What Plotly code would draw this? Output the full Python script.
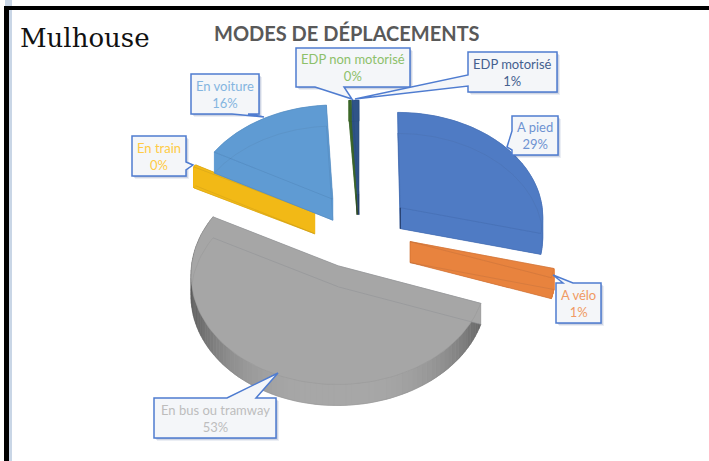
import numpy as np
import plotly.graph_objects as go

categories = ["A pied", "A vélo", "En bus ou tramway", "En train", "En voiture", "EDP non motorisé", "EDP motorisé"]
values = [29.4, 1.4, 53, 0.4, 16.2, 0.2, 0.8]
pct_labels = ["29%", "1%", "53%", "0%", "16%", "0%", "1%"]
colors = ["#4f7bc4", "#e8833e", "#a6a6a6", "#f2b916", "#5f9bd3", "#3f6b2a", "#2f5488"]
side_colors = ["#27406e", "#c86a2a", "#a6a6a6", "#f2b916", "#5f9bd3", "#22361a", "#1f3a63"]
text_colors = ["#6f93d2", "#f09a63", "#bdbdbd", "#ffcb45", "#84b5e0", "#8dc06a", "#44608f"]
title_text = "MODES DE DÉPLACEMENTS"
city_text = "Mulhouse"

CX, CY, RX, RY, PERSP, EXPLODE, DEPTH = 360, 230.5, 144, 105, 0.07, 0.36, 21


def project(X, Y, dz=0):
    s = 1 / (1 - PERSP * Y)
    return CX + RX * X * s, CY + RY * Y * s + dz


def wedge(a0, a1, n):
    mid = (a0 + a1) / 2
    ox, oy = EXPLODE * np.sin(mid), -EXPLODE * np.cos(mid)
    t = np.linspace(a0, a1, n)
    return ox, oy, ox + np.sin(t), oy - np.cos(t), t


fig = go.Figure()


def poly(x, y, color, line=None, width=0):
    fig.add_trace(go.Scatter(x=list(x), y=list(y), mode="lines", fill="toself", fillcolor=color,
                             line=dict(color=line or color, width=width if width else 0.5),
                             hoverinfo="skip", showlegend=False))


def wire(x, y, color, width=0.7):
    fig.add_trace(go.Scatter(x=list(x), y=list(y), mode="lines", line=dict(color=color, width=width),
                             hoverinfo="skip", showlegend=False))


def shade(t):
    # lighting of the rim of the grey slice, from the front (light) to the sides (dark)
    f = np.clip(abs(np.sin(t)), 0, 1) ** 3
    v = int(168 - 78 * f)
    return f"rgb({v},{v},{v})"


fractions = np.array(values) / sum(values)
edges = np.concatenate([[0], np.cumsum(fractions)]) * 2 * np.pi

for i in [3, 4, 5, 6, 0, 1, 2]:
    a0, a1 = edges[i], edges[i + 1]
    ox, oy, ax, ay, t = wedge(a0, a1, 90)
    tx, ty = project(np.r_[ox, ax], np.r_[oy, ay])
    bx, by = project(np.r_[ox, ax], np.r_[oy, ay], DEPTH)
    poly(bx, by, colors[i])
    for j in range(len(t) - 1):
        qx = [tx[j + 1], tx[j + 2], bx[j + 2], bx[j + 1]]
        qy = [ty[j + 1], ty[j + 2], by[j + 2], by[j + 1]]
        poly(qx, qy, shade((t[j] + t[j + 1]) / 2) if i == 2 else colors[i])
    for k in (1, -1):
        poly([tx[0], tx[k], bx[k], bx[0]], [ty[0], ty[k], by[k], by[0]], colors[i])
    poly(tx, ty, colors[i])
    wire(bx[1:], by[1:], "rgba(40,40,40,0.09)")
    wire(tx[1:], ty[1:], "rgba(40,40,40,0.09)")
    wire(np.r_[tx[1], tx[0], tx[-1]], np.r_[ty[1], ty[0], ty[-1]], "rgba(30,40,60,0.12)")
    wire(np.r_[bx[1], bx[0], bx[-1]], np.r_[by[1], by[0], by[-1]], "rgba(30,40,60,0.12)")
    wire([tx[0], bx[0]], [ty[0], by[0]], side_colors[i], 1.2 if i in (0, 5, 6) else 0.6)

# callouts: box (x0, y0, x1, y1), pointer (base a, tip, base b)
callouts = {
    0: ((512, 116, 558, 155), ((512, 131), (507, 147), (512, 150))),
    1: ((556, 283, 601, 323), ((573, 283), (553, 275), (563, 283))),
    2: ((154, 398, 276, 438), ((227, 398), (278, 373), (256, 398))),
    3: ((132, 136, 186, 176), ((186, 162), (193, 165), (186, 170))),
    4: ((191, 74, 259, 114), ((232, 114), (264, 117), (248, 114))),
    5: ((296, 48, 410, 87), ((315, 87), (352, 99), (344, 87))),
    6: ((468, 52, 557, 92), ((468, 75), (355, 99), (468, 86))),
}
draw_order = [5, 6, 4, 3, 0, 1, 2]
shapes, annos = [], []
for i in draw_order:
    (x0, y0, x1, y1), (pa, tip, pb) = callouts[i]
    for off, alpha in ((3, 0.10), (2, 0.16), (1, 0.22)):
        shapes.append(dict(type="rect", xref="x", yref="y", x0=x0 + off, y0=y0 + off, x1=x1 + off, y1=y1 + off,
                           line=dict(width=0), fillcolor=f"rgba(60,90,150,{alpha})"))
    if pa[0] == x0:
        pts = [(x0, y0), (x1, y0), (x1, y1), (x0, y1), pb, tip, pa]
    elif pa[0] == x1:
        pts = [(x0, y0), (x1, y0), pa, tip, pb, (x1, y1), (x0, y1)]
    elif i == 1:
        pts = [(x0, y0), (pb[0], y0), tip, (pa[0], y0), (x1, y0), (x1, y1), (x0, y1)]
    else:
        pts = [(x0, y0), (x1, y0), (x1, y1), pb, tip, pa, (x0, y1)]
        if pa[1] == y0:
            pts = [(x0, y0), pa, tip, pb, (x1, y0), (x1, y1), (x0, y1)]
    path = "M " + " L ".join(f"{a} {b}" for a, b in pts) + " Z"
    shapes.append(dict(type="path", xref="x", yref="y", path=path, fillcolor="#f4f6f9",
                       line=dict(color="#4f7cd0", width=1.5)))
    annos.append(dict(x=(x0 + x1) / 2, y=(y0 + y1) / 2, xref="x", yref="y", showarrow=False,
                      text=f"{categories[i]}<br>{pct_labels[i]}", align="center",
                      font=dict(family="Lato", size=13, color=text_colors[i]), xanchor="center", yanchor="middle"))

# frame of the slide
shapes += [
    dict(type="rect", xref="x", yref="y", x0=5, x1=12, y0=0, y1=461, line=dict(width=0), fillcolor="#c9d6e6", layer="below"),
    dict(type="rect", xref="x", yref="y", x0=4, x1=9, y0=6, y1=461, line=dict(width=0), fillcolor="#000000"),
    dict(type="rect", xref="x", yref="y", x0=4, x1=709, y0=6, y1=10, line=dict(width=0), fillcolor="#000000"),
]
annos += [
    dict(x=346.5, y=33, xref="x", yref="y", text=title_text, showarrow=False, xanchor="center", yanchor="middle",
         font=dict(family="Lato", size=20, color="#595959", weight="bold")),
    dict(x=85, y=38, xref="x", yref="y", text=city_text, showarrow=False, xanchor="center", yanchor="middle",
         font=dict(family="DejaVu Serif", size=26, color="#111111")),
]

fig.update_layout(
    width=709, height=461, margin=dict(l=0, r=0, t=0, b=0),
    paper_bgcolor="white", plot_bgcolor="white", showlegend=False,
    xaxis=dict(range=[0, 709], visible=False, fixedrange=True),
    yaxis=dict(range=[461, 0], visible=False, fixedrange=True),
    shapes=shapes, annotations=annos,
)
fig.write_html("out.html", post_script="document.body.style.margin='0';document.body.style.overflow='hidden';",
               config=dict(displayModeBar=False))
